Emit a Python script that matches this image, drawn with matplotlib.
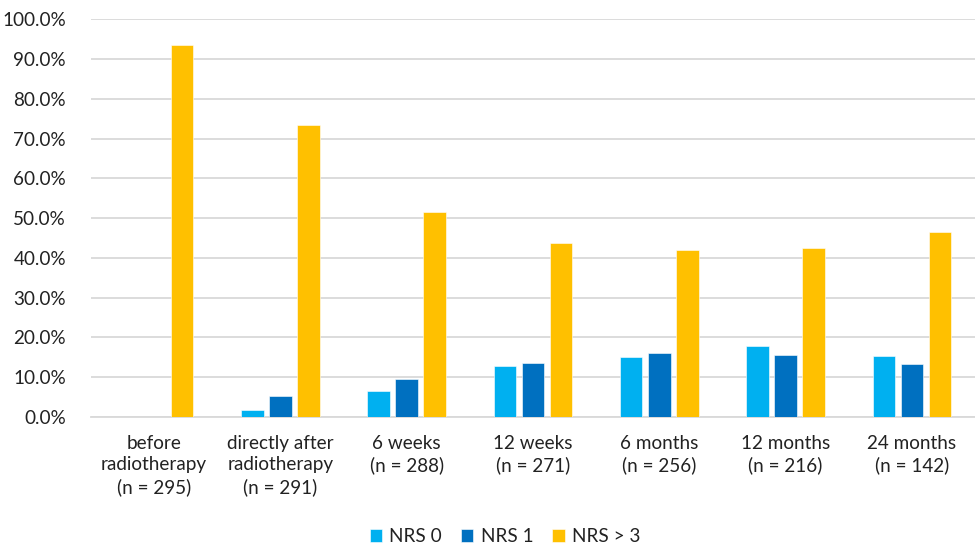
import matplotlib
matplotlib.use("Agg")
import matplotlib.pyplot as plt
import numpy as np

plt.rcParams['font.family'] = ['Lato', 'DejaVu Sans']

categories = ["before\nradiotherapy\n(n = 295)",
              "directly after\nradiotherapy\n(n = 291)",
              "6 weeks\n(n = 288)",
              "12 weeks\n(n = 271)",
              "6 months\n(n = 256)",
              "12 months\n(n = 216)",
              "24 months\n(n = 142)"]
series_names = ["NRS 0", "NRS 1", "NRS > 3"]
nrs0 = [0.0, 1.7, 6.6, 12.8, 15.2, 17.9, 15.4]
nrs1 = [0.0, 5.2, 9.6, 13.6, 16.2, 15.6, 13.3]
nrs_gt3 = [93.4, 73.3, 51.6, 43.8, 42.1, 42.5, 46.4]
colors = ["#00B0F0", "#0070C0", "#FFC000"]

fig = plt.figure(figsize=(9.75, 5.48), dpi=100)
ax = fig.add_axes([0.0933, 0.239, 0.9067, 0.726])

x = np.arange(len(categories))
width = 0.178
step = 0.222
for i, (vals, name, c) in enumerate(zip([nrs0, nrs1, nrs_gt3], series_names, colors)):
    ax.bar(x + (i - 1) * step, vals, width=width, color=c, label=name,
           edgecolor="white", linewidth=0.4, zorder=3)

ax.set_xlim(-0.5, len(categories) - 0.5)
ax.set_ylim(0, 100)
ax.set_yticks(np.arange(0, 101, 10))
ax.set_yticklabels([f"{v:.1f}%" for v in np.arange(0, 101, 10)])
ax.set_xticks(x)
ax.set_xticklabels(categories, linespacing=1.3)
ax.tick_params(axis='both', length=0, labelsize=13.6, colors="#222222")
ax.tick_params(axis='x', pad=13)
ax.tick_params(axis='y', pad=18)
ax.yaxis.grid(True, color="#D9D9D9", linewidth=1.3, zorder=0)
for s in ["top", "right", "left"]:
    ax.spines[s].set_visible(False)
ax.spines["bottom"].set_color("#D9D9D9")
ax.spines["bottom"].set_linewidth(1.3)

fig.legend(loc="lower center", bbox_to_anchor=(0.518, -0.022), ncol=3, frameon=False,
           fontsize=13.6, handlelength=0.65, handleheight=0.65, handletextpad=0.4,
           columnspacing=1.0, labelcolor="#222222", borderpad=0.3)

fig.savefig("out.png", dpi=100)
